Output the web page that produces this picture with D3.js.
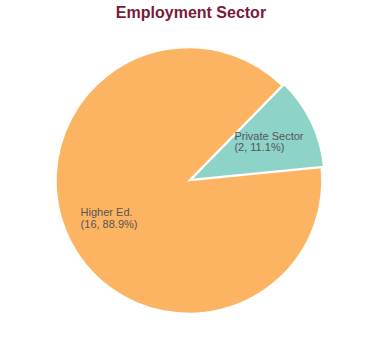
<!DOCTYPE html>
<html><head><meta charset="utf-8">
<script src="https://cdn.jsdelivr.net/npm/d3@7"></script>
<style>body{margin:0;background:#fff}</style>
</head><body>
<svg id="c" width="380" height="360"></svg>
<script>
const categories = ["Private Sector", "Higher Ed."];
const counts = [2, 16];
const colors = ["#8dd3c7", "#fdb462"];
const title = "Employment Sector";

const W = 380, H = 360, cx = 189, cy = 180.5, R = 133;
const svg = d3.select("#c");
svg.append("text").attr("x", 191).attr("y", 17.5).attr("text-anchor", "middle")
  .attr("font-family", "Liberation Sans, Arial, sans-serif").attr("font-weight", "bold")
  .attr("font-size", 16).attr("fill", "#7a1a3a").text(title);

const data = categories.map((c, i) => ({cat: c, n: counts[i], col: colors[i]}));
const total = d3.sum(counts);
const start = 44.4 * Math.PI / 180;
const pie = d3.pie().value(d => d.n).sort(null).startAngle(start).endAngle(start + 2 * Math.PI);
const arcs = pie(data);
const arc = d3.arc().innerRadius(0).outerRadius(R);
const labelArc = d3.arc().innerRadius(R * 2 / 3).outerRadius(R * 2 / 3);
const g = svg.append("g").attr("transform", `translate(${cx},${cy})`);

g.selectAll("path").data(arcs).join("path")
  .attr("d", arc)
  .attr("fill", d => d.data.col)
  .attr("stroke", "#fff").attr("stroke-width", 1.5)
  .attr("transform", (d, i) => {
    if (i !== 0) return null;
    const [x, y] = d3.arc().innerRadius(0).outerRadius(5).centroid(d);
    return `translate(${x},${y})`;
  });

const fmt = d3.format(".1f");
arcs.forEach(d => {
  const [lx, ly] = labelArc.centroid(d);
  const t = g.append("text").attr("font-family", "Liberation Sans, Arial, sans-serif")
    .attr("font-size", 11).attr("fill", "#555");
  const l1 = t.append("tspan").text(d.data.cat);
  const l2 = t.append("tspan").text(`(${d.data.n}, ${fmt(d.data.n / total * 100)}%)`);
  const w = Math.max(l1.node().getComputedTextLength(), l2.node().getComputedTextLength());
  const x0 = lx - w / 2;
  l1.attr("x", x0).attr("y", ly - 2.5);
  l2.attr("x", x0).attr("y", ly + 9);
});
</script>
</body></html>
